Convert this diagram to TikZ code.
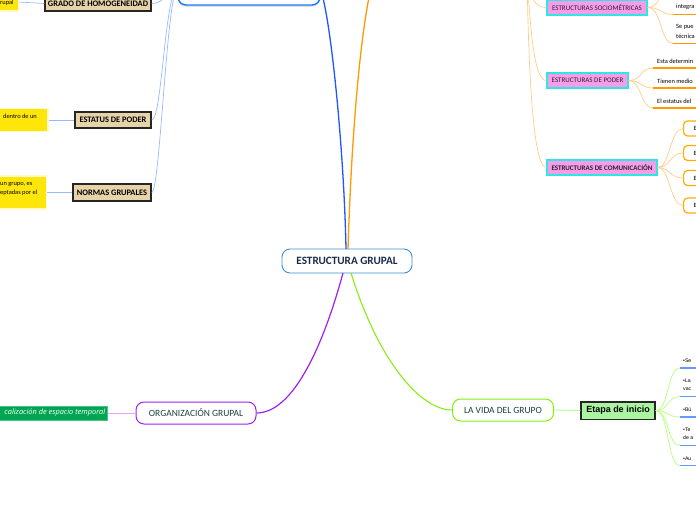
\documentclass[tikz,border=0pt]{standalone}
\usepackage{fontspec}
\setmainfont{Carlito}
\newfontfamily\arialf{Liberation Sans}
\newfontfamily\opensans{Open Sans}
\usetikzlibrary{shadows}
\definecolor{cblue}{HTML}{3D8FD6}
\definecolor{navy}{HTML}{1B2A4A}
\definecolor{mblue}{HTML}{2255FF}
\definecolor{lblue}{HTML}{99B8FF}
\definecolor{beige}{HTML}{E6D3A8}
\definecolor{yel}{HTML}{FFE60A}
\definecolor{yelb}{HTML}{FFF8C8}
\definecolor{orng}{HTML}{FF9900}
\definecolor{lorng}{HTML}{FFCC88}
\definecolor{pink}{HTML}{F79CEB}
\definecolor{cyanb}{HTML}{2EE8E0}
\definecolor{purp}{HTML}{A020F0}
\definecolor{lpurp}{HTML}{E0A8FF}
\definecolor{grn}{HTML}{88EE11}
\definecolor{lgrn}{HTML}{BBFF88}
\definecolor{etapa}{HTML}{AAF5A0}
\definecolor{gbox}{HTML}{00A651}
\definecolor{teal}{HTML}{1A4040}
\definecolor{ubl}{HTML}{6699FF}
\tikzset{
  mainbox/.style={draw=cblue, line width=0.9pt, rounded corners=8pt, fill=white, inner sep=0pt, text=navy, font=\fontsize{11.2}{13}\selectfont\bfseries},
  topbox/.style={draw=mblue!80!cyan, line width=1.4pt, rounded corners=8pt, fill=white, inner sep=0pt, drop shadow={shadow xshift=0pt, shadow yshift=-1.8pt, opacity=0.25}},
  beigebox/.style={draw=black!85, line width=1.5pt, fill=beige, inner sep=0pt, font=\fontsize{8.4}{9}\selectfont\bfseries},
  yelbox/.style={draw=yelb, line width=1.5pt, fill=yel, inner sep=0pt},
  smalltxt/.style={inner sep=0pt, font=\fontsize{6.4}{7}\selectfont},
  pinkbox/.style={draw=cyanb, line width=1.3pt, fill=pink, inner sep=0pt, text=black!85, font=\fontsize{7}{8}\selectfont},
  ebox/.style={draw=orng!80!yellow, line width=1.2pt, rounded corners=4pt, fill=white, inner xsep=10pt, inner ysep=0pt, text width=20pt, align=left, minimum height=15pt, font=\fontsize{6.4}{7}\selectfont},
  subbox/.style={line width=1pt, rounded corners=8pt, fill=white, inner sep=0pt, text=teal, font=\fontsize{9.5}{11}\selectfont},
  etapabox/.style={draw=black!85, line width=1.5pt, fill=etapa, inner sep=0pt, font=\arialf\fontsize{9}{11}\selectfont\bfseries},
  atxt/.style={inner sep=0pt, anchor=west, font=\arialf\fontsize{5.2}{6}\selectfont},
  bline/.style={draw=mblue, line width=1.3pt},
  oline/.style={draw=orng, line width=1.3pt},
  lbl/.style={draw=lblue, line width=0.7pt},
  lor/.style={draw=lorng, line width=0.7pt},
  ul/.style={draw=orng, line width=1.2pt},
  gul/.style={draw=ubl, line width=1.2pt},
}
\begin{document}
\begin{tikzpicture}[x=1pt,y=-1pt]
\useasboundingbox (0,0) rectangle (696,520);
\clip (0,0) rectangle (696,520);

% ---- nodes
\node[topbox, minimum width=142pt, minimum height=30pt] (top) at (249,-10) {};
\node[mainbox, minimum width=130pt, minimum height=24pt] (central) at (347,261) {ESTRUCTURA GRUPAL};

\node[beigebox, minimum width=106pt, minimum height=15pt] (grado) at (98,3.5) {GRADO DE HOMOGENEIDAD};
\node[beigebox, minimum width=76pt, minimum height=16pt] (estatus) at (113,120) {ESTATUS DE PODER};
\node[beigebox, minimum width=78pt, minimum height=17pt] (normas) at (112,192.5) {NORMAS GRUPALES};

\node[yelbox, anchor=east, minimum width=40pt, minimum height=18pt] (y1) at (19,2) {};
\node[yelbox, anchor=east, minimum width=60pt, minimum height=23pt] (y2) at (48.5,120) {};
\node[yelbox, anchor=east, minimum width=60pt, minimum height=33pt] (y3) at (47,192.5) {};
\node[smalltxt, anchor=west] (t1) at (0,3) {rupal};
\node[smalltxt, anchor=west] (t2) at (3,116) {dentro de un};
\node[smalltxt, anchor=west] (t3a) at (0,184.5) {un grupo, es};
\node[smalltxt, anchor=west] (t3b) at (0,193) {eptadas por el};

\coordinate (osrc) at (527,-25);
\coordinate (otop) at (373,-20);
\node[pinkbox, minimum width=100pt, minimum height=15pt] (socio) at (597,7.5) {ESTRUCTURAS SOCIOMÉTRICAS};
\node[pinkbox, minimum width=81pt, minimum height=15pt] (poder) at (587.5,80.5) {ESTRUCTURAS DE PODER};
\node[pinkbox, minimum width=110pt, minimum height=15pt, font=\fontsize{7}{8}\selectfont\bfseries] (comm) at (602,167.5) {ESTRUCTURAS DE COMUNICACIÓN};

% socio children
\node[smalltxt, anchor=west] (s1a) at (676,-1.5) {Se};
\node[smalltxt, anchor=west] (s1b) at (676,7) {integra};
\node[smalltxt, anchor=west] (s2a) at (676,27) {Se pue};
\node[smalltxt, anchor=west] (s2b) at (676,36) {técnica};
\coordinate (u0) at (673,-15);
\coordinate (u1) at (673,14.5);
\coordinate (u1e) at (700,14.5);
\coordinate (u2) at (673,43.5);
\coordinate (u2e) at (700,43.5);
% poder children
\node[smalltxt, anchor=west] (p1) at (657,61) {Esta determin};
\node[smalltxt, anchor=west] (p2) at (657,81) {Tienen medio};
\node[smalltxt, anchor=west] (p3) at (657,101) {El estatus del};
\coordinate (v1) at (653,68);  \coordinate (v1e) at (700,68);
\coordinate (v2) at (653,88);  \coordinate (v2e) at (700,88);
\coordinate (v3) at (653,108); \coordinate (v3e) at (700,108);
% comm children
\node[ebox, anchor=west] (e1) at (683,128.5) {E};
\node[ebox, anchor=west] (e2) at (683,153) {E};
\node[ebox, anchor=west] (e3) at (683,178) {E};
\node[ebox, anchor=west] (e4) at (683,205.5) {E};

% bottom
\node[subbox, draw=purp, minimum width=120pt, minimum height=22pt] (org) at (196,413) {ORGANIZACIÓN GRUPAL};
\node[draw=gbox!70!white, line width=0.6pt, fill=gbox, anchor=east, minimum width=130pt, minimum height=14pt, inner sep=0pt] (loc) at (108,413) {};
\node[inner sep=0pt, anchor=east, text=white, font=\opensans\itshape\fontsize{7.4}{8}\selectfont] (loct) at (105.5,413) {calización de espacio temporal};
\node[subbox, draw=grn, minimum width=101pt, minimum height=22pt] (vida) at (503,410) {LA VIDA DEL GRUPO};
\node[etapabox, minimum width=74pt, minimum height=17.5pt] (etapa) at (618,410.5) {Etapa de inicio};

% etapa children
\node[atxt] (a1) at (683,361) {•Se};
\node[atxt] (a2a) at (683,381) {•La};
\node[atxt] (a2b) at (683,389) {vac};
\node[atxt] (a3) at (683,409.5) {•Bú};
\node[atxt] (a4a) at (683,430) {•Te};
\node[atxt] (a4b) at (683,438) {de a};
\node[atxt] (a5) at (683,458.5) {•Au};
\coordinate (w1) at (680,368);   \coordinate (w1e) at (700,368);
\coordinate (w2) at (680,396.5); \coordinate (w2e) at (700,396.5);
\coordinate (w3) at (680,417);   \coordinate (w3e) at (700,417);
\coordinate (w4) at (680,445.5); \coordinate (w4e) at (700,445.5);
\coordinate (w5) at (680,465.5); \coordinate (w5e) at (700,465.5);

% ---- connectors
\draw[bline] (346,249) .. controls (344,150) and (331,20) .. (top.east);
\draw[oline] (348,249) .. controls (352,120) and (362,20) .. (otop);

\draw[lbl] (top.west) .. controls (164,-10) and (166,3.5) .. (grado.east);
\draw[lbl] (top.west) .. controls (165,-10) and (162,120) .. (estatus.east);
\draw[lbl] (top.west) .. controls (167,-10) and (160,192.5) .. (normas.east);
\draw[lbl] (y1.east) -- (grado.west);
\draw[lbl] (y2.east) -- (estatus.west);
\draw[lbl] (y3.east) -- (normas.west);

\draw[lor] (osrc) .. controls (531,0) and (535,7.5) .. (socio.west);
\draw[lor] (osrc) .. controls (531,40) and (535,80.5) .. (poder.west);
\draw[lor] (osrc) .. controls (529,100) and (535,167.5) .. (comm.west);

\draw[lor] (socio.east) .. controls (662,7.5) and (660,-15) .. (u0);
\draw[lor] (socio.east) .. controls (662,7.5) and (660,14.5) .. (u1);
\draw[lor] (socio.east) .. controls (662,7.5) and (660,43.5) .. (u2);
\draw[ul] (u1) -- (u1e);
\draw[ul] (u2) -- (u2e);
\draw[lor] (poder.east) .. controls (642,80.5) and (640,68) .. (v1);
\draw[lor] (poder.east) .. controls (642,80.5) and (640,88) .. (v2);
\draw[lor] (poder.east) .. controls (642,80.5) and (640,108) .. (v3);
\draw[ul] (v1) -- (v1e);
\draw[ul] (v2) -- (v2e);
\draw[ul] (v3) -- (v3e);
\foreach \e in {e1,e2,e3,e4}
  \draw[lor] (comm.east) .. controls (670,167.5) and ([xshift=-13pt]\e.west) .. (\e.west);

\draw[draw=purp, line width=1.2pt] (343,273) .. controls (322,350) and (292,413) .. (org.east);
\draw[draw=lpurp, line width=0.9pt] (loc.east) -- (org.west);
\draw[draw=grn, line width=1.1pt] (351,273) .. controls (378,360) and (420,410) .. (vida.west);
\draw[draw=lgrn, line width=0.9pt] (vida.east) -- (etapa.west);
\foreach \w in {w1,w2,w3,w4,w5}
  \draw[draw=lgrn, line width=0.8pt] (etapa.east) .. controls (669,410.5) and ([xshift=-13pt]\w) .. (\w);
\draw[gul] (w1) -- (w1e);
\draw[gul] (w2) -- (w2e);
\draw[gul] (w3) -- (w3e);
\draw[gul] (w4) -- (w4e);
\draw[gul] (w5) -- (w5e);
\end{tikzpicture}
\end{document}
